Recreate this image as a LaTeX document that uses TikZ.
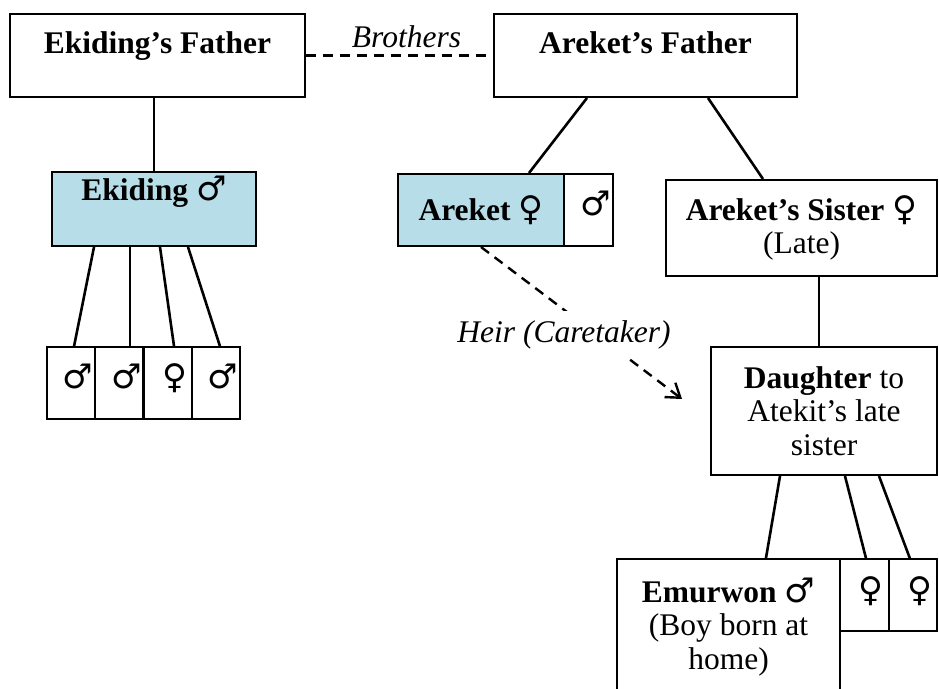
\documentclass[tikz,border=0pt]{standalone}
\usepackage{fontspec}
\setmainfont{Liberation Serif}
\newfontfamily\gsym{DejaVu Sans}[Scale=1.08]
\usepackage{tikz}
\usetikzlibrary{arrows.meta}

\definecolor{kidblue}{RGB}{183,222,232}
\newcommand{\treefont}{\fontsize{15.75}{16.75}\selectfont}

\begin{document}
\begin{tikzpicture}[x=0.5pt,y=-0.5pt,font=\treefont,
	box/.style={draw,line width=1pt,inner sep=0pt,align=center},
	gbox/.style={draw,line width=1pt,inner sep=0pt,minimum width=24.25pt,minimum height=36pt,text height=21pt,text depth=15pt},
	conn/.style={line width=1.3pt},
	brolink/.style={line width=1.2pt,dash pattern=on 5pt off 3.5pt},
	heir/.style={line width=1.2pt,dash pattern=on 5pt off 3.5pt,-{Straight Barb[length=6.5pt,width=9pt]}}]
	\useasboundingbox (0,0) rectangle (939,689);
	\clip (0,0) rectangle (939,689);

	% fathers
	\draw (157.5,55.5) node (efather) [box,minimum width=147.5pt,minimum height=41.5pt,text height=20pt,text depth=21.5pt] {\textbf{Ekiding's Father}};
	\draw (645.5,55.5) node (afather) [box,minimum width=151.5pt,minimum height=41.5pt,text height=20pt,text depth=21.5pt] {\textbf{Areket's Father}};

	% second row
	\draw (154,209) node (ekiding) [box,fill=kidblue,minimum width=102pt,minimum height=37pt,text height=14.5pt,text depth=22.5pt] {\textbf{Ekiding} {\gsym ♂}};
	\draw (481,210) node (areket) [box,fill=kidblue,minimum width=83pt,minimum height=36pt] {\textbf{Areket} {\gsym ♀}};
	\draw (588.5,210) node (aspouse) [gbox] {\hspace*{7pt}{\gsym ♂}};
	\draw (801.5,228) node (sister) [box,minimum width=135.5pt,minimum height=48pt] {\textbf{Areket's Sister} {\gsym ♀}\\(Late)};

	% Ekiding's children
	\draw (71.1,383) node (kid1) [gbox] {\hspace*{7pt}{\gsym ♂}};
	\draw (119.4,383) node (kid2) [gbox] {\hspace*{7pt}{\gsym ♂}};
	\draw (167.6,383) node (kid3) [gbox] {\hspace*{7pt}{\gsym ♀}};
	\draw (215.9,383) node (kid4) [gbox] {\hspace*{7pt}{\gsym ♂}};

	% daughter and her children
	\draw (824,411) node (daughter) [box,minimum width=113pt,minimum height=64pt] {\textbf{Daughter} to\\Atekit's late\\sister};
	\draw (728.5,627) node (emurwon) [box,minimum width=111.5pt,minimum height=68pt] {\textbf{Emurwon} {\gsym ♂}\\(Boy born at\\home)};
	\draw (864.25,595.5) node (sib1) [gbox] {\hspace*{7pt}{\gsym ♀}};
	\draw (912.75,595.5) node (sib2) [gbox] {\hspace*{7pt}{\gsym ♀}};

	\draw[brolink] (efather) edge node [above,xshift=3.5pt] {\textit{Brothers}} (afather);

	\draw[conn] (ekiding.north) edge (ekiding.north |- efather.south);
	\draw[conn] ([xshift=-29.25pt]afather.south) edge ([xshift=24pt]areket.north);
	\draw[conn] ([xshift=31.25pt]afather.south) edge ([xshift=-19.25pt]sister.north);

	\draw[conn] ([xshift=-30pt]ekiding.south) edge ([xshift=1.5pt]kid1.north);
	\draw[conn] ([xshift=-12pt]ekiding.south) edge ([xshift=5.3pt]kid2.north);
	\draw[conn] ([xshift=3pt]ekiding.south) edge ([xshift=3.2pt]kid3.north);
	\draw[conn] ([xshift=17pt]ekiding.south) edge ([xshift=2pt]kid4.north);

	\draw[conn] ([xshift=8.75pt]sister.south) edge ([xshift=-2.5pt]daughter.north);
	\draw[conn] ([xshift=-22pt]daughter.south) edge ([xshift=18.75pt]emurwon.north);
	\draw[conn] ([xshift=10.5pt]daughter.south) edge ([xshift=0.9pt]sib1.north);
	\draw[conn] ([xshift=27.5pt]daughter.south) edge ([xshift=-1.4pt]sib2.north);

	% heir link
	\coordinate (heirend) at (682,399);
	\draw[heir] (areket.south) -- (heirend);
	\draw (564,335) node (heirlbl) [fill=white,inner sep=5pt] {\textit{Heir (Caretaker)}};
\end{tikzpicture}
\end{document}
